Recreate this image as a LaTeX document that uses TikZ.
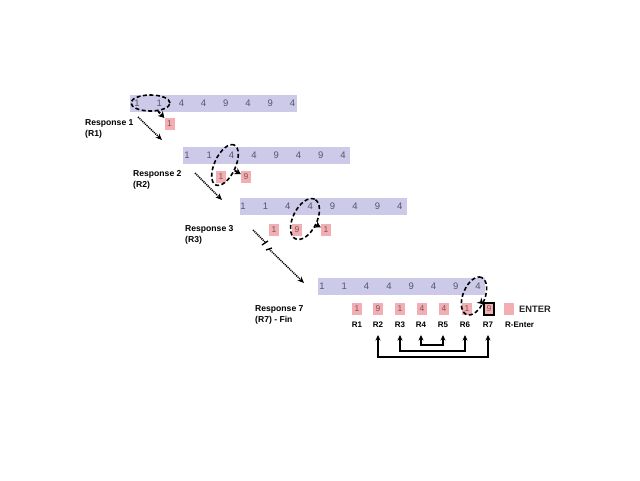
\documentclass[tikz,border=0pt]{standalone}
\usepackage{fontspec}
\setmainfont{Liberation Sans}
\usetikzlibrary{arrows.meta,shapes.geometric}
\definecolor{barc}{HTML}{CCCAE8}
\definecolor{pk}{HTML}{F2AEB2}
\definecolor{dg}{HTML}{55556A}
\definecolor{pg}{HTML}{7A5558}
\begin{document}
\begin{tikzpicture}[x=1pt,y=-1pt,
  barbox/.style={fill=barc, minimum width=167pt, minimum height=17pt, inner sep=0pt},
  dig/.style={font=\fontsize{9.5}{11}\selectfont, text=dg, inner sep=0pt},
  pbox/.style={fill=pk, minimum width=10pt, minimum height=12pt, inner sep=0pt, font=\fontsize{8.5}{10}\selectfont, text=pg},
  ell/.style={draw=black, ellipse, dash pattern=on 4pt off 2.5pt, line width=1.6pt, inner sep=0pt},
  jump/.style={line width=1.9pt, dash pattern=on 3pt off 1.2pt, -{Stealth[length=6pt,width=7pt]}},
  dots/.style={line width=1.5pt, dash pattern=on 1.1pt off 0.9pt, -{Stealth[length=6.5pt,width=5.5pt]}},
  dotl/.style={line width=1.5pt, dash pattern=on 1.1pt off 0.9pt},
  lab/.style={font=\bfseries\fontsize{8.6}{11}\selectfont, align=left, anchor=west, inner sep=0pt},
  rl/.style={font=\bfseries\fontsize{8}{10}\selectfont, inner sep=1pt},
  brk/.style={line width=1.3pt, {Stealth[length=5.5pt,width=5pt]}-{Stealth[length=5.5pt,width=5pt]}}
]
\fill[white] (0,0) rectangle (640,480);
\useasboundingbox (0,0) rectangle (640,480);

% ---------- bars ----------
\node[barbox, anchor=west] (bar1) at (130,103.5) {};
\node[barbox, anchor=west] (bar2) at (183,155) {};
\node[barbox, anchor=west] (bar3) at (240,206) {};
\node[barbox, anchor=west] (bar4) at (318,286.5) {};
\foreach \v [count=\i] in {1,1,4,4,9,4,9,4} {
  \node[dig] (ra\i) at ({137+22.2*(\i-1)},103.5) {\v};
  \node[dig] (rb\i) at ({187+22.3*(\i-1)},155) {\v};
  \node[dig] (rc\i) at ({243+22.4*(\i-1)},206) {\v};
  \node[dig] (rd\i) at ({322+22.3*(\i-1)},286.5) {\v};
}

% ---------- pink boxes ----------
\node[pbox] (pa1) at (169.5,123.5) {1};
\node[pbox] (pb1) at (221,177) {1};
\node[pbox] (pb2) at (246,177) {9};
\node[pbox] (pc1) at (274,230) {1};
\node[pbox] (pc2) at (297,230) {9};
\node[pbox] (pc3) at (326,230) {1};
\node[pbox] (pd1) at (357,309) {1};
\node[pbox] (pd2) at (378,309) {9};
\node[pbox] (pd3) at (400,309) {1};
\node[pbox] (pd4) at (422,309) {4};
\node[pbox] (pd5) at (444,309) {4};
\node[pbox] (pd6) at (467,309) {1};
\node[pbox, draw=black, line width=1.2pt] (pd7) at (489,309) {9};
\node[pbox] (pent) at (509,309) {};
\node[font=\bfseries\fontsize{9.3}{11}\selectfont, text=black!85, anchor=west, inner sep=0pt] (enter) at (519,309) {ENTER};

% ---------- R labels ----------
\node[rl] (R1) at (357,325) {R1};
\node[rl] (R2) at (378,325) {R2};
\node[rl] (R3) at (400,325) {R3};
\node[rl] (R4) at (421,325) {R4};
\node[rl] (R5) at (443,325) {R5};
\node[rl] (R6) at (465,325) {R6};
\node[rl] (R7) at (488,325) {R7};
\node[rl, anchor=west] (Rent) at (504,325) {R-Enter};

\draw[brk] ([yshift=-6pt]R2.south) -- ++(0,22) -| ([yshift=-6pt]R7.south);
\draw[brk] ([yshift=-6pt]R3.south) -- ++(0,16) -| ([yshift=-6pt]R6.south);
\draw[brk] ([yshift=-6pt]R4.south) -- ++(0,10) -| ([yshift=-6pt]R5.south);

% ---------- response labels ----------
\node[lab] (L1) at (85,129) {Response 1\\(R1)};
\node[lab] (L2) at (133,179.5) {Response 2\\(R2)};
\node[lab] (L3) at (185,234.5) {Response 3\\(R3)};
\node[lab] (L4) at (255,314.5) {Response 7\\(R7) - Fin};

% ---------- dashed ellipses ----------
\node[ell, minimum width=39pt, minimum height=16pt] (e1) at (150.5,103) {};
\node[ell, rotate=65, minimum width=44pt, minimum height=21pt] (e2) at (225,165) {};
\node[ell, rotate=64, minimum width=44pt, minimum height=24pt] (e3) at (305,219) {};
\node[ell, rotate=68, minimum width=40pt, minimum height=22pt] (e4) at (474,296) {};

\draw[jump] (e1) -- (pa1);
\draw[jump] (e2) -- (pb2);
\draw[jump] (e3) -- (pc3);
\draw[jump] (e4) -- (pd7);

% ---------- dotted progress arrows ----------
\coordinate (s1) at (138,117);
\coordinate (t1) at (162,140);
\coordinate (s2) at (195,173);
\coordinate (t2) at (222,200);
\coordinate (s3) at (253,230);
\coordinate (m3) at (265,242);
\coordinate (n3) at (269,249);
\coordinate (t3) at (304,283);
\draw[dots] (s1) -- (t1);
\draw[dots] (s2) -- (t2);
\draw[dotl] (s3) -- (m3);
\draw[line width=1.3pt] ([shift={(-3,3)}]m3) -- ([shift={(3,-1)}]m3);
\draw[line width=1.3pt] ([shift={(-3,1)}]n3) -- ([shift={(3,-1)}]n3);
\draw[dots] (n3) -- (t3);
\end{tikzpicture}
\end{document}
